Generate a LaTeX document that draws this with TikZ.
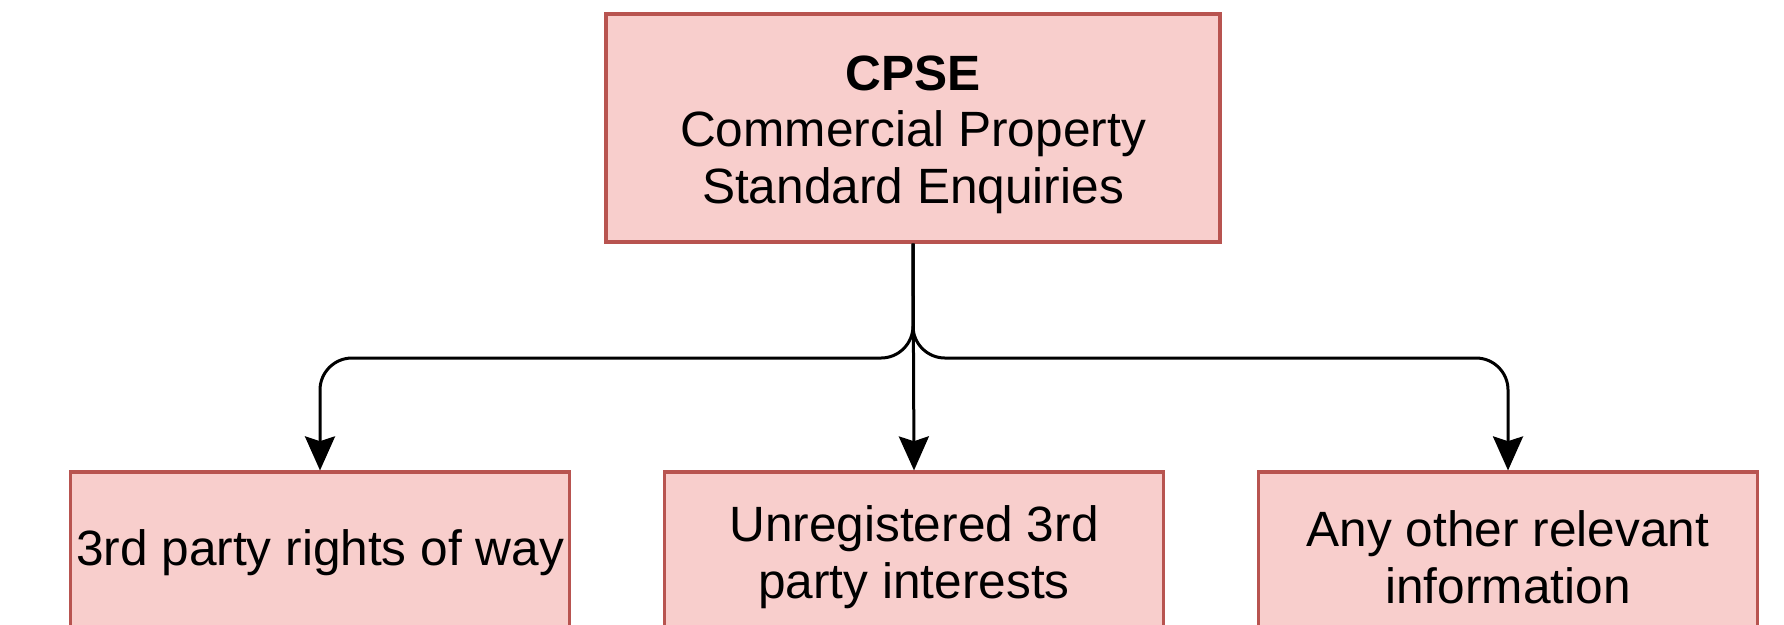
\documentclass[tikz,border=0pt]{standalone}
\usepackage{fontspec}
\setmainfont{Liberation Sans}
\usetikzlibrary{arrows.meta}
\definecolor{boxfill}{HTML}{F8CECC}
\definecolor{boxline}{HTML}{B85450}
\tikzset{
  box/.style={draw=boxline, fill=boxfill, line width=0.8pt, inner sep=0pt},
  topbox/.style={box, minimum width=153.5pt, minimum height=57pt},
  leafbox/.style={box, minimum width=124.75pt, minimum height=40.5pt},
  txt/.style={align=center, inner sep=0pt, font=\fontsize{12.4pt}{14.2pt}\selectfont},
  conn/.style={draw=black, line width=0.75pt, rounded corners=8pt,
    -{Stealth[length=8.5pt,width=7.5pt,inset=1.2pt]}}
}
\begin{document}
\begin{tikzpicture}[x=0.25pt, y=-0.25pt]
  \useasboundingbox (0,0) rectangle (1784,624);
  \clip (0,0) rectangle (1784,624);
  \node[topbox] (top) at (913,128) {};
  \node[txt] (toptext) at ([yshift=-1.7pt]top.center) {\textbf{CPSE}\\Commercial Property\\Standard Enquiries};
  \node[leafbox] (left) at (320,553) {};
  \node[txt] (lefttext) at (left.center) {3rd party rights of way};
  \node[leafbox] (mid) at (914,553) {};
  \node[txt] (midtext) at ([yshift=-1pt]mid.center) {Unregistered 3rd\\party interests};
  \node[leafbox] (right) at (1508,553) {};
  \node[txt] (righttext) at ([yshift=-1pt]right.center) {Any other relevant\\information};
  \coordinate (j) at (913,358);
  \draw[conn] (top.south) |- (left.north |- j) -- (left.north);
  \draw[conn] (top.south) -- (mid.north);
  \draw[conn] (top.south) |- (right.north |- j) -- (right.north);
\end{tikzpicture}
\end{document}
